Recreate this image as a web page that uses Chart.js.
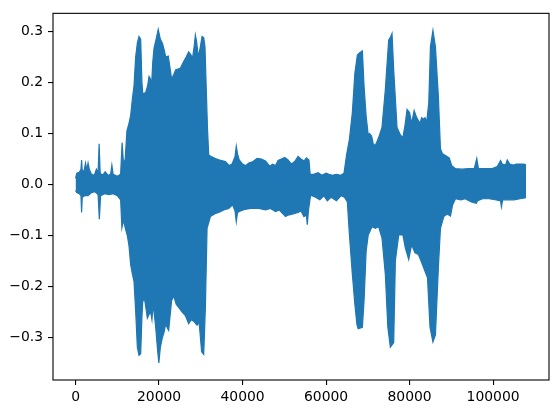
<!DOCTYPE html>
<html>
<head>
<meta charset="utf-8">
<script src="https://cdn.jsdelivr.net/npm/chart.js@4.4.1/dist/chart.umd.min.js"></script>
<style>
html,body{margin:0;padding:0;background:#fff;}
#wrap{width:559px;height:413px;}
</style>
</head>
<body>
<div id="wrap"><canvas id="c" width="559" height="413"></canvas></div>
<script>
// Tick labels
const xTicks = [0, 20000, 40000, 60000, 80000, 100000];
const yTicks = [-0.3, -0.2, -0.1, 0.0, 0.1, 0.2, 0.3];

// Upper envelope of the waveform (sample index, amplitude)
const upperX = [0,300,900,1300,1450,1600,2000,2400,2700,3000,3300,3800,4500,5000,5400,5650,5900,6500,7100,7800,8400,8700,9000,10000,10800,11150,11500,11900,12300,12800,13200,13600,14000,14400,14800,15200,15600,15900,16100,16800,17300,17600,17900,18200,18500,18800,19300,19800,20300,20800,21200,21600,22200,22600,23000,23500,24000,25100,25900,26500,27100,27600,28000,28400,28700,29000,29400,29900,30300,30700,31000,31300,31600,31900,32500,33500,34500,35900,36800,37500,38200,38500,38800,39200,40000,40700,41500,42500,43500,44500,45500,46500,47200,47900,48500,49300,50100,50900,51700,52500,53300,54000,54700,55300,55900,56200,57000,58100,59000,60000,60700,61500,62500,63500,64300,64900,65600,66300,66900,67500,68000,68700,69100,69600,70100,70400,70900,71400,72000,72600,73400,74200,75000,75500,75800,76200,77000,77800,78400,78900,79400,80000,80500,81100,81700,82500,82900,83400,83700,84100,84600,85000,85600,86200,86900,87400,87900,88600,89500,90100,91000,92600,94000,95500,96100,96500,98000,99800,101000,101800,102200,103000,103400,104000,104800,105600,106500,107400,107900];
const upperY = [0.012,0.022,0.024,0.030,0.048,0.028,0.025,0.042,0.028,0.042,0.030,0.020,0.018,0.030,0.022,0.080,0.022,0.018,0.025,0.018,0.020,0.038,0.020,0.016,0.020,0.082,0.040,0.050,0.105,0.120,0.135,0.167,0.193,0.250,0.277,0.290,0.285,0.200,0.178,0.180,0.195,0.212,0.208,0.193,0.240,0.267,0.285,0.304,0.285,0.277,0.265,0.250,0.252,0.230,0.207,0.215,0.225,0.228,0.241,0.250,0.260,0.255,0.247,0.270,0.293,0.280,0.250,0.270,0.290,0.288,0.270,0.190,0.110,0.058,0.055,0.051,0.048,0.045,0.037,0.040,0.055,0.075,0.060,0.048,0.040,0.037,0.042,0.045,0.051,0.050,0.046,0.036,0.040,0.037,0.047,0.050,0.053,0.048,0.040,0.045,0.055,0.050,0.046,0.052,0.048,0.020,0.020,0.023,0.018,0.022,0.020,0.018,0.020,0.018,0.022,0.057,0.089,0.141,0.218,0.254,0.258,0.262,0.193,0.134,0.097,0.100,0.095,0.076,0.080,0.092,0.112,0.186,0.283,0.290,0.296,0.225,0.112,0.097,0.092,0.115,0.147,0.141,0.120,0.145,0.131,0.120,0.131,0.128,0.131,0.122,0.160,0.270,0.302,0.270,0.173,0.070,0.060,0.057,0.052,0.037,0.031,0.030,0.031,0.031,0.051,0.031,0.031,0.031,0.035,0.047,0.040,0.038,0.048,0.040,0.038,0.040,0.040,0.040,0.038];

// Lower envelope of the waveform (sample index, amplitude)
const lowerX = [0,300,900,1300,1450,1600,2200,3000,3800,4600,5400,5700,6000,7000,8000,9000,10000,10800,11100,11500,11900,12400,12800,13200,13600,14000,14400,14800,15200,15600,15900,16100,16600,17200,17600,18000,18300,18600,19200,19600,19950,20300,20800,21200,21600,22000,22300,23000,23500,24100,24700,25500,26300,27100,27700,28300,29100,29600,30200,30700,31100,31500,32300,33500,34300,35500,36700,37600,38200,38500,38800,39500,40500,42000,43900,45500,46700,47900,48800,50300,50900,51900,53300,54000,54700,55300,55500,55800,56300,57500,58500,59500,60300,61200,62500,63600,64400,65100,65600,66300,66900,67400,67700,68700,69100,69600,70100,71000,71800,72600,73400,74200,74800,75400,76200,76600,77400,78400,79000,79800,80500,81300,82100,82900,83700,84300,84900,85600,86200,86900,87400,88200,89000,89400,89800,90300,91000,92300,93300,94800,96000,96300,97500,99000,100500,101800,102000,102300,103500,105000,106500,107900];
const lowerY = [-0.012,-0.016,-0.018,-0.022,-0.055,-0.025,-0.022,-0.022,-0.016,-0.014,-0.020,-0.068,-0.022,-0.018,-0.020,-0.018,-0.022,-0.030,-0.085,-0.070,-0.085,-0.100,-0.120,-0.157,-0.175,-0.190,-0.248,-0.319,-0.335,-0.332,-0.260,-0.228,-0.228,-0.262,-0.255,-0.250,-0.265,-0.234,-0.280,-0.320,-0.350,-0.320,-0.300,-0.290,-0.273,-0.282,-0.286,-0.228,-0.218,-0.235,-0.241,-0.250,-0.257,-0.273,-0.265,-0.268,-0.276,-0.270,-0.328,-0.333,-0.240,-0.086,-0.063,-0.057,-0.055,-0.050,-0.047,-0.040,-0.052,-0.073,-0.055,-0.052,-0.049,-0.047,-0.047,-0.050,-0.047,-0.053,-0.050,-0.063,-0.060,-0.058,-0.055,-0.052,-0.063,-0.060,-0.079,-0.050,-0.021,-0.025,-0.030,-0.022,-0.032,-0.025,-0.032,-0.022,-0.025,-0.034,-0.099,-0.176,-0.235,-0.275,-0.283,-0.280,-0.228,-0.131,-0.099,-0.083,-0.086,-0.083,-0.105,-0.176,-0.280,-0.319,-0.310,-0.150,-0.099,-0.099,-0.125,-0.147,-0.118,-0.134,-0.137,-0.153,-0.170,-0.183,-0.280,-0.309,-0.295,-0.163,-0.086,-0.063,-0.058,-0.060,-0.062,-0.040,-0.028,-0.030,-0.028,-0.034,-0.037,-0.032,-0.028,-0.028,-0.030,-0.032,-0.044,-0.030,-0.030,-0.030,-0.028,-0.026];

const BLUE = '#1f77b4';
const FONT = {family: "'DejaVu Sans', sans-serif", size: 13.9};

const framePlugin = {
  id: 'frame',
  afterDraw(chart) {
    const a = chart.chartArea, ctx = chart.ctx;
    ctx.save();
    ctx.strokeStyle = '#000';
    ctx.lineWidth = 1.1;
    ctx.strokeRect(a.left, a.top, a.right - a.left, a.bottom - a.top);
    ctx.restore();
  }
};

const fmtY = v => (Math.abs(v) < 1e-9 ? '0.0' : (v < 0 ? '\u2212' + Math.abs(v).toFixed(1) : v.toFixed(1)));

new Chart(document.getElementById('c'), {
  type: 'line',
  data: {
    datasets: [
      {
        data: upperX.map((x, i) => ({x: x, y: upperY[i]})),
        borderColor: BLUE, backgroundColor: BLUE, borderWidth: 1.2,
        pointRadius: 0, tension: 0, fill: '+1'
      },
      {
        data: lowerX.map((x, i) => ({x: x, y: lowerY[i]})),
        borderColor: BLUE, backgroundColor: BLUE, borderWidth: 1.2,
        pointRadius: 0, tension: 0, fill: false
      }
    ]
  },
  options: {
    responsive: false,
    animation: false,
    devicePixelRatio: 1,
    layout: {padding: {top: 10, right: 10, left: 0, bottom: 0}},
    plugins: {legend: {display: false}, tooltip: {enabled: false}},
    scales: {
      x: {
        type: 'linear', min: -5400, max: 113400,
        afterBuildTicks: s => { s.ticks = xTicks.map(v => ({value: v})); },
        afterFit: s => { s.height = 33; },
        grid: {display: true, drawOnChartArea: false, drawTicks: true, tickLength: 5, color: '#000', lineWidth: 1.1},
        border: {display: false},
        ticks: {font: FONT, color: '#000', padding: 4, maxRotation: 0, autoSkip: false, callback: v => String(v)}
      },
      y: {
        type: 'linear', min: -0.3834, max: 0.3356,
        afterBuildTicks: s => { s.ticks = yTicks.map(v => ({value: v})); },
        afterFit: s => { s.width = 53; },
        grid: {display: true, drawOnChartArea: false, drawTicks: true, tickLength: 5, color: '#000', lineWidth: 1.1},
        border: {display: false},
        ticks: {font: FONT, color: '#000', padding: 5, autoSkip: false, callback: v => fmtY(v)}
      }
    }
  },
  plugins: [framePlugin]
});
</script>
</body>
</html>
